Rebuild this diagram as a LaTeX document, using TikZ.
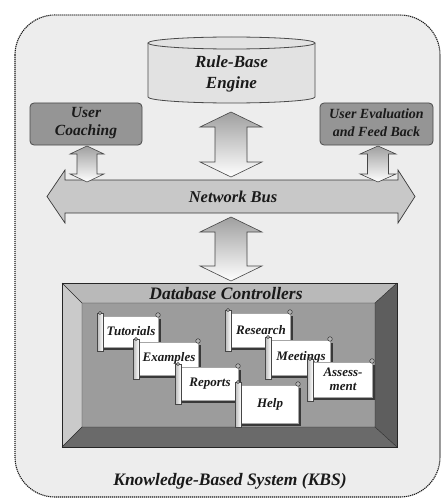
\documentclass[tikz,border=0pt]{standalone}
\usepackage{fontspec}
\setmainfont{Liberation Serif}
\definecolor{bgkbs}{HTML}{EDEDED}
\definecolor{cylfill}{HTML}{E2E2E2}
\definecolor{userfill}{HTML}{959595}
\definecolor{busfill}{HTML}{C8C8C8}
\definecolor{panel}{HTML}{9C9C9C}
\definecolor{bevtop}{HTML}{B9B9B9}
\definecolor{bevleft}{HTML}{CACACA}
\definecolor{bevright}{HTML}{5E5E5E}
\definecolor{bevbot}{HTML}{6A6A6A}
\definecolor{ink}{HTML}{1A1A1A}
\definecolor{edge}{HTML}{4A4A4A}
\tikzset{
  lbl/.style={font=\bfseries\itshape\fontsize{#1}{#1}\selectfont, text=ink, align=center, inner sep=0pt},
  lbl/.default=12,
  userbox/.style={draw=edge, fill=userfill, rounded corners=4, line width=0.8},
  blockarrow/.style={top color=gray!75, bottom color=white, draw=gray!55!black, line width=0.6},
  scrollpaper/.style={fill=white, draw=gray!70, line width=0.4},
  scrollroll/.style={left color=gray!55, right color=white, draw=gray!55!black, line width=0.4},
  scrollknob/.style={fill=gray!60, draw=gray!30!black, line width=0.4},
}
\newcommand\vdarr[6]{% cx, ytop, ybot, shaft half, head half, head len
  \shade[blockarrow] (#1-#4,#2+#6) -- (#1-#5,#2+#6) -- (#1,#2) -- (#1+#5,#2+#6) -- (#1+#4,#2+#6)
    -- (#1+#4,#3-#6) -- (#1+#5,#3-#6) -- (#1,#3) -- (#1-#5,#3-#6) -- (#1-#4,#3-#6) -- cycle;}
\newcommand\scrollnote[6]{% name, x1, y1, x2, y2, text
  \fill[gray!45!black] (#2+3,#3+3) rectangle (#4+3,#5+3);
  \draw[scrollpaper] (#2,#3) rectangle (#4,#5);
  \shade[scrollroll] (#2-3,#3-3) rectangle (#2+3,#5+4);
  \draw[scrollknob] (#2,#3-3) circle (1.6);
  \draw[scrollknob] (#4,#3-1) circle (2.3);
  \node[lbl=13] (#1) at ({(#2+#4)/2+2},{(#3+#5)/2}) {#6};
}
\begin{document}
\begin{tikzpicture}[x=1pt,y=-1pt]
\useasboundingbox (0,0) rectangle (444,500);
\fill[white] (0,0) rectangle (444,500);
% outer KBS region
\draw[fill=bgkbs, draw=ink, line width=1.1, dash pattern=on 1.2pt off 0.8pt, rounded corners=40] (15,15) rectangle (440,497);
\node[lbl=17.5] (kbs) at (230,481) {Knowledge-Based System (KBS)};

% rule-base engine cylinder
\fill[cylfill] (148,43) -- (148,97) arc[start angle=180, end angle=0, x radius=83.5, y radius=6]
  -- (315,43) arc[start angle=0, end angle=-180, x radius=83.5, y radius=6] -- cycle;
\draw[edge, line width=0.8] (148,43) -- (148,97) arc[start angle=180, end angle=0, x radius=83.5, y radius=6] -- (315,43);
\draw[edge, line width=0.8, fill=cylfill] (231.5,43) ellipse[x radius=83.5, y radius=6];
\node[lbl=17] (rbe) at (231.5,74) {Rule-Base\\[4pt]Engine};

% user boxes
\draw[userbox] (30,103) rectangle (142,145);
\node[lbl=15.5] (uc) at (86,123) {User\\[3pt]Coaching};
\draw[userbox] (320,103) rectangle (433,145);
\node[lbl=14] (ue) at (376.5,123) {User Evaluation\\[4pt]and Feed Back};

% network bus
\draw[fill=busfill, draw=gray!45!black, line width=0.7] (47,196.5) -- (65,170) -- (65,180) -- (398,180) -- (398,170)
  -- (415,196.5) -- (398,223) -- (398,213) -- (65,213) -- (65,223) -- cycle;
\node[lbl=16.5] (bus) at (233,197) {Network Bus};

% block arrows
\vdarr{231}{112}{177}{16}{31}{15}
\vdarr{231}{217}{281}{16}{31}{15}
\vdarr{87}{146}{182}{10}{17}{8}
\vdarr{378}{146}{182}{10.5}{18}{8}

% database controllers frame
\fill[panel] (82,303) rectangle (375,427);
\fill[bevtop] (62,283) -- (397,283) -- (375,303) -- (82,303) -- cycle;
\fill[bevleft] (62,283) -- (82,303) -- (82,427) -- (62,447) -- cycle;
\fill[bevright] (397,283) -- (397,447) -- (375,427) -- (375,303) -- cycle;
\fill[bevbot] (62,447) -- (82,427) -- (375,427) -- (397,447) -- cycle;
\draw[gray!30!black, line width=0.6] (62,283) rectangle (397,447);
\draw[gray!30!black, line width=0.4] (82,303) rectangle (375,427)
  (62,283) -- (82,303) (397,283) -- (375,303) (62,447) -- (82,427) (397,447) -- (375,427);
\node[lbl=17.5] (db) at (226,294) {Database Controllers};

% scroll notes
\scrollnote{tut}{100}{316}{158}{347}{Tutorials}
\scrollnote{exa}{136}{342}{198}{375}{Examples}
\scrollnote{rep}{178}{367}{238}{400}{Reports}
\scrollnote{res}{228}{313}{290}{347}{Research}
\scrollnote{mee}{268}{340}{330}{375}{Meetings}
\scrollnote{hel}{238}{385}{298}{423}{Help}
\scrollnote{ass}{310}{362}{372}{397}{Assess-\\[1pt]ment}
\end{tikzpicture}
\end{document}
